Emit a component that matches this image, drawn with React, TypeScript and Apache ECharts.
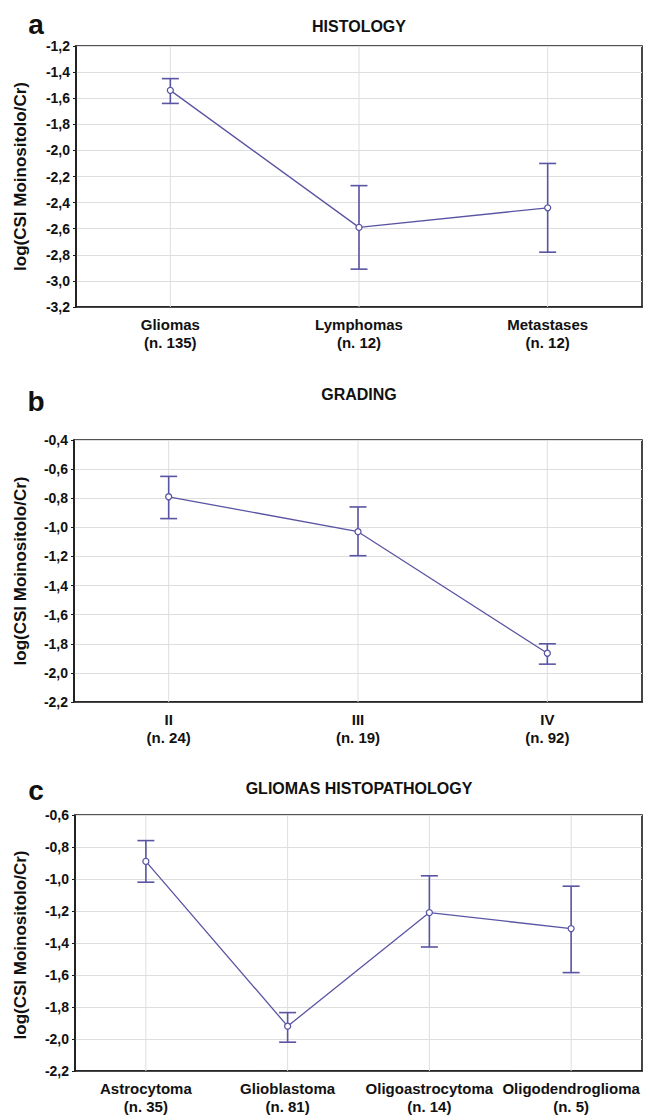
import React, { useEffect, useRef } from "react";
import * as echarts from "echarts";

// Panel a: HISTOLOGY
const histCats = ["Gliomas\n(n. 135)", "Lymphomas\n(n. 12)", "Metastases\n(n. 12)"];
const histMean = [-1.54, -2.59, -2.44];
const histHigh = [-1.45, -2.27, -2.1];
const histLow = [-1.64, -2.91, -2.78];

// Panel b: GRADING
const gradCats = ["II\n(n. 24)", "III\n(n. 19)", "IV\n(n. 92)"];
const gradMean = [-0.79, -1.03, -1.865];
const gradHigh = [-0.65, -0.86, -1.8];
const gradLow = [-0.94, -1.195, -1.94];

// Panel c: GLIOMAS HISTOPATHOLOGY
const glioCats = [
  "Astrocytoma\n(n. 35)",
  "Glioblastoma\n(n. 81)",
  "Oligoastrocytoma\n(n. 14)",
  "Oligodendroglioma\n(n. 5)",
];
const glioMean = [-0.89, -1.92, -1.21, -1.31];
const glioHigh = [-0.76, -1.835, -0.98, -1.045];
const glioLow = [-1.02, -2.02, -1.425, -1.585];

const titles = ["HISTOLOGY", "GRADING", "GLIOMAS HISTOPATHOLOGY"];
const letters = ["a", "b", "c"];
const yLabel = "log(CSI Moinositolo/Cr)";
const yRanges = [
  [-3.2, -1.2],
  [-2.2, -0.4],
  [-2.2, -0.6],
];

const COLOR = "#5a55a3";
const FONT = "'Liberation Sans', Arial, sans-serif";

const gridsPos = [
  { top: 46, height: 261, left: 76 },
  { top: 440, height: 262, left: 74 },
  { top: 815, height: 260, left: 75 },
];
const titleY = [26, 394, 788];
const letterY = [24, 401, 790];

export default function App() {
  const ref = useRef<HTMLDivElement>(null);
  useEffect(() => {
    document.body.style.margin = "0";
    const chart = echarts.init(ref.current!, null, { renderer: "svg" });
    const cats = [histCats, gradCats, glioCats];
    const means = [histMean, gradMean, glioMean];
    const highs = [histHigh, gradHigh, glioHigh];
    const lows = [histLow, gradLow, glioLow];

    const grids = gridsPos.map((g) => ({
      left: g.left,
      right: 7,
      top: g.top,
      height: g.height,
      show: true,
      borderColor: "#1a1a1a",
      borderWidth: 1.6,
      backgroundColor: "#fff",
    }));

    const xAxes = cats.map((c, i) => ({
      type: "category",
      gridIndex: i,
      data: c,
      boundaryGap: true,
      axisLine: { show: true, lineStyle: { color: "#1a1a1a", width: 1.6 } },
      axisTick: { show: false },
      splitLine: { show: false },
      axisLabel: {
        interval: 0,
        margin: 8,
        fontFamily: FONT,
        fontWeight: "bold",
        fontSize: 15,
        lineHeight: 18,
        color: "#111",
      },
    }));

    const yAxes = yRanges.map((r, i) => ({
      type: "value",
      gridIndex: i,
      min: r[0],
      max: r[1],
      interval: 0.2,
      axisLine: { show: true, lineStyle: { color: "#1a1a1a", width: 1.6 } },
      axisTick: { show: true, length: 3, lineStyle: { color: "#1a1a1a" } },
      splitLine: { show: true, lineStyle: { color: "#dedede", width: 1 } },
      axisLabel: {
        margin: 6,
        fontFamily: FONT,
        fontWeight: "bold",
        fontSize: 14,
        color: "#111",
        formatter: (v: number) => v.toFixed(1).replace(".", ","),
      },
    }));

    const series: any[] = [];
    cats.forEach((c, i) => {
      // vertical grid lines through category centres
      series.push({
        type: "custom",
        xAxisIndex: i,
        yAxisIndex: i,
        z: 1,
        silent: true,
        data: c.map((_, k) => [k]),
        renderItem: (params: any, api: any) => {
          const top = api.coord([api.value(0), yRanges[i][1]]);
          const bot = api.coord([api.value(0), yRanges[i][0]]);
          return {
            type: "line",
            shape: { x1: top[0], y1: top[1], x2: bot[0], y2: bot[1] },
            style: { stroke: "#dedede", lineWidth: 1 },
          };
        },
      });
      // error bars
      series.push({
        type: "custom",
        xAxisIndex: i,
        yAxisIndex: i,
        z: 3,
        data: c.map((_, k) => [k, highs[i][k], lows[i][k]]),
        encode: { x: 0, y: [1, 2] },
        renderItem: (params: any, api: any) => {
          const x = api.value(0);
          const hi = api.coord([x, api.value(1)]);
          const lo = api.coord([x, api.value(2)]);
          const w = 8.5;
          const st = { stroke: COLOR, lineWidth: 1.6 };
          return {
            type: "group",
            children: [
              { type: "line", shape: { x1: hi[0], y1: hi[1], x2: lo[0], y2: lo[1] }, style: st },
              { type: "line", shape: { x1: hi[0] - w, y1: hi[1], x2: hi[0] + w, y2: hi[1] }, style: st },
              { type: "line", shape: { x1: lo[0] - w, y1: lo[1], x2: lo[0] + w, y2: lo[1] }, style: st },
            ],
          };
        },
      });
      series.push({
        type: "line",
        xAxisIndex: i,
        yAxisIndex: i,
        z: 4,
        data: means[i],
        symbol: "circle",
        symbolSize: 6,
        showSymbol: true,
        lineStyle: { color: COLOR, width: 1.3 },
        itemStyle: { color: "#fff", borderColor: COLOR, borderWidth: 1.3 },
      });
    });

    const graphic: any[] = [];
    gridsPos.forEach((g, i) => {
      graphic.push({
        type: "text",
        x: 20,
        y: g.top + g.height / 2,
        rotation: Math.PI / 2,
        style: {
          text: yLabel,
          fontFamily: FONT,
          fontWeight: "bold",
          fontSize: 17,
          fill: "#111",
          textAlign: "center",
          textVerticalAlign: "middle",
        },
      });
      graphic.push({
        type: "text",
        x: 359,
        y: titleY[i],
        style: {
          text: titles[i],
          fontFamily: FONT,
          fontWeight: "bold",
          fontSize: 16,
          fill: "#111",
          textAlign: "center",
          textVerticalAlign: "middle",
        },
      });
      graphic.push({
        type: "text",
        x: 36,
        y: letterY[i],
        style: {
          text: letters[i],
          fontFamily: FONT,
          fontWeight: "bold",
          fontSize: 28,
          fill: "#111",
          textAlign: "center",
          textVerticalAlign: "middle",
        },
      });
    });

    chart.setOption({
      animation: false,
      backgroundColor: "#fff",
      grid: grids,
      xAxis: xAxes,
      yAxis: yAxes,
      series,
      graphic,
    });
    return () => chart.dispose();
  }, []);
  return <div ref={ref} style={{ width: 649, height: 1115 }} />;
}
